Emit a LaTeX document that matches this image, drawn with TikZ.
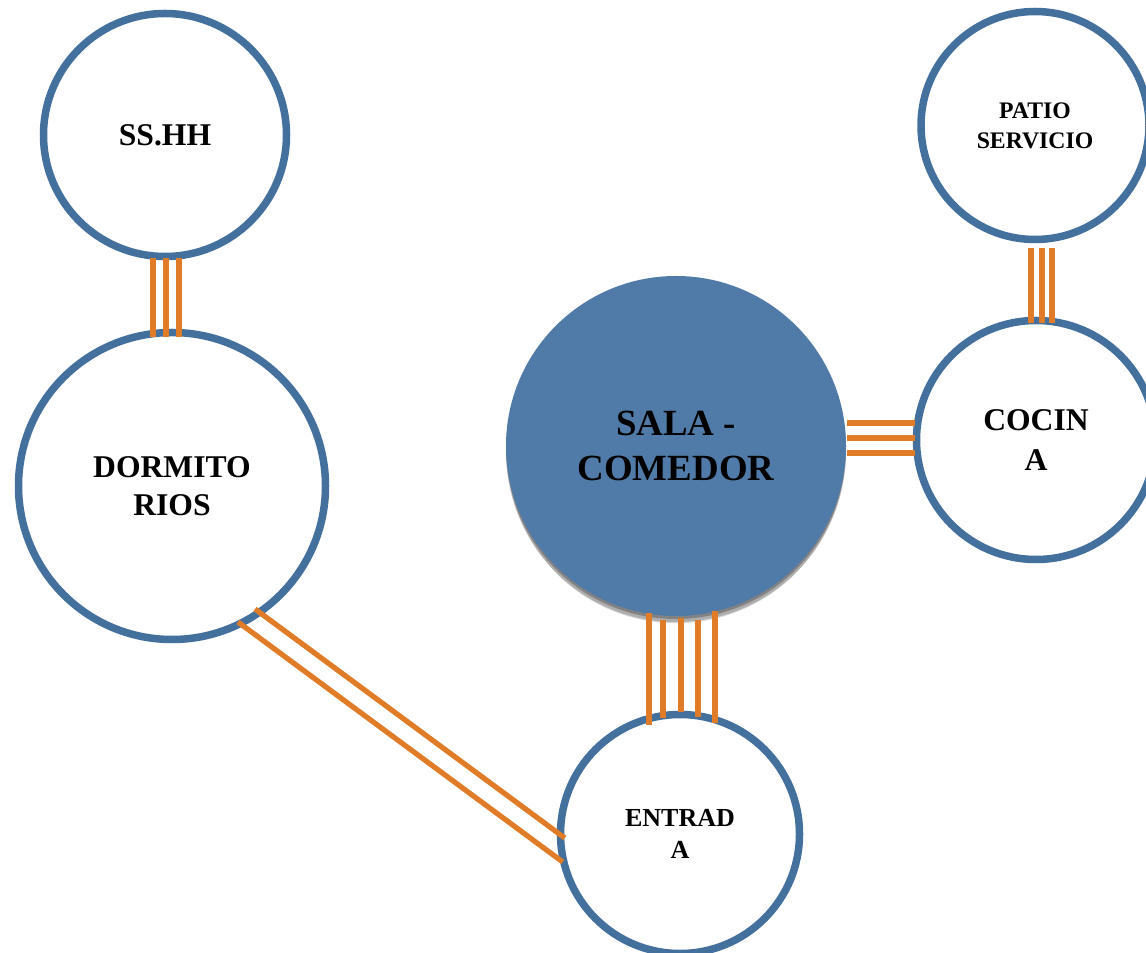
\documentclass[tikz,border=0pt]{standalone}
\usepackage{fontspec}
\setmainfont{Liberation Serif}
\usetikzlibrary{calc,shadows}
\definecolor{roomblue}{RGB}{68,112,158}
\definecolor{salafill}{RGB}{80,123,168}
\definecolor{linkorange}{RGB}{224,123,40}

\begin{document}
\begin{tikzpicture}[x=0.2mm,y=-0.2mm,
  room/.style={circle,draw=roomblue,line width=1.5mm,fill=white,inner sep=0pt,align=center},
  link/.style={draw=linkorange,line width=1.05mm}]
\useasboundingbox (0,0) rectangle (1146,953);

\coordinate (S) at (165,135);
\coordinate (D) at (172,486);
\coordinate (C) at (676,446);
\coordinate (K) at (1036,440);
\coordinate (P) at (1035,125.5);
\coordinate (E) at (680,834);

\node[room,minimum size=48.6mm,font=\fontsize{18}{21.6}\selectfont\bfseries] (S1) at (S) {SS.HH};
\node[room,minimum size=61.4mm,font=\fontsize{18}{21.6}\selectfont\bfseries] (D1) at (D) {DORMITO\\RIOS};
\node[circle,fill=salafill,inner sep=0pt,minimum size=68mm,align=center,
  general shadow={shadow yshift=-1.8mm,shadow scale=0.99,opacity=0.15,fill=black},
  general shadow={shadow yshift=-1.2mm,opacity=0.2,fill=black},
  general shadow={shadow yshift=-0.6mm,opacity=0.25,fill=black},
  font=\fontsize{21}{25.6}\selectfont\bfseries] (C1) at (C) {SALA -\\COMEDOR};
\node[room,minimum size=47.8mm,font=\fontsize{18}{22.8}\selectfont\bfseries] (K1) at (K) {COCIN\\A};
\node[room,minimum size=45.6mm,font=\fontsize{13.5}{17}\selectfont\bfseries] (P1) at (P) {PATIO\\SERVICIO};
\node[room,minimum size=47.8mm,font=\fontsize{14.8}{18.2}\selectfont\bfseries] (E1) at (E) {ENTRAD\\A};

% triple and multiple links
\foreach \dx in {-12,1,14}
  \draw[link] ($(S1.south)+(\dx,-2)$) -- ($(D1.north)+(\dx-7,8)$);
\foreach \dx in {-4,7,17}
  \draw[link] ($(P1.south)+(\dx,5)$) -- ($(K1.north)+(\dx-1,6)$);
\foreach \dy in {-23,-8,7}
  \draw[link] ($(C1.east)+(1,\dy)$) -- ($(K1.west)+(2,\dy+6)$);
\foreach \dx/\ta/\tb in {-27/-3/14,-13/4/7,5/2/1,22/4/6,39/-5/12}
  \draw[link] ($(C1.south)+(\dx,\ta)$) -- ($(E1.north)+(\dx-4,\tb)$);
\draw[link] ($(D1.center)+(83,123)$) -- ($(E1.west)+(8,4)$);
\draw[link] ($(D1.center)+(66,136)$) -- ($(E1.west)+(6,28)$);

\end{tikzpicture}
\end{document}
